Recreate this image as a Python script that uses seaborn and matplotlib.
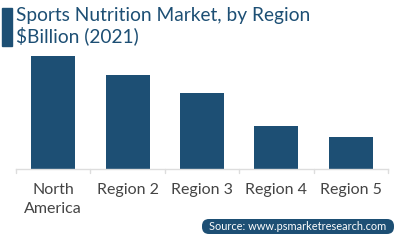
import matplotlib
matplotlib.use("Agg")
import matplotlib.pyplot as plt
import seaborn as sns
import pandas as pd
from matplotlib.patches import FancyBboxPatch, Rectangle

regions = ["North\nAmerica", "Region 2", "Region 3", "Region 4", "Region 5"]
values = [112, 93, 75, 43, 32]

title_line1 = "Sports Nutrition Market, by Region"
title_line2 = "$Billion (2021)"
source = "Source: www.psmarketresearch.com"

BLUE = "#1d4f74"
sns.set_style("white")
plt.rcParams['font.family'] = ['Lato', 'DejaVu Sans']

fig = plt.figure(figsize=(3.99, 2.43), dpi=100)
ax = fig.add_axes([16/399, 1-169/243, (388-16)/399, (169-56)/243])

df = pd.DataFrame({"region": regions, "value": values})
sns.barplot(data=df, x="region", y="value", color=BLUE, width=0.59,
            saturation=1, ax=ax, edgecolor="none")
ax.set_xlim(-0.5, 4.5)
ax.set_ylim(0, 112)
ax.set_xlabel("")
ax.set_ylabel("")
ax.set_yticks([])
for s in ["top", "right", "left"]:
    ax.spines[s].set_visible(False)
ax.spines["bottom"].set_color("#dddddd")
ax.spines["bottom"].set_linewidth(1.0)
ax.set_xticks([i for i in range(5)])
ax.set_xticklabels(regions, fontsize=11.5, color="#444444", linespacing=1.45)
ax.tick_params(axis="x", length=0, pad=10)
# category boundary ticks
for b in [-0.5, 0.5, 1.5, 2.5, 3.5, 4.5]:
    ax.plot([b, b], [0, -4], color="#dddddd", lw=1.0, clip_on=False)

# overlay axes in pixel units for decorations
ov = fig.add_axes([0, 0, 1, 1], zorder=5)
ov.set_xlim(0, 399)
ov.set_ylim(243, 0)
ov.axis("off")
ov.patch.set_alpha(0)

ov.add_patch(Rectangle((2, 8), 10, 38, color=BLUE))
ov.text(16, 7, title_line1, fontsize=13.8, color=BLUE, va="top", ha="left")
ov.text(16, 26, title_line2, fontsize=13.8, color=BLUE, va="top", ha="left")

ov.add_patch(FancyBboxPatch((202, 219), 192, 15,
                            boxstyle="round,pad=0,rounding_size=7",
                            facecolor=BLUE, edgecolor="none"))
ov.text(298, 226.5, source, fontsize=7.9, color="white",
        ha="center", va="center")

fig.savefig("out.png", dpi=100)
